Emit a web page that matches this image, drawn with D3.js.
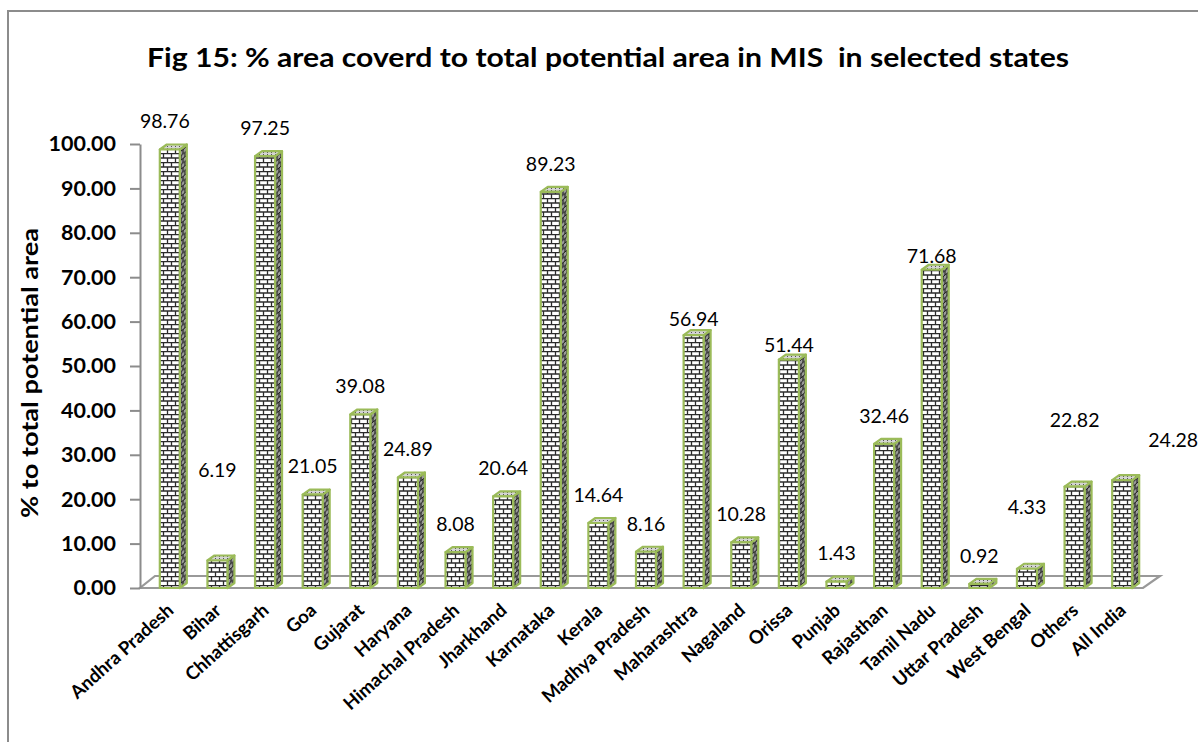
<!DOCTYPE html>
<html>
<head>
<meta charset="utf-8">
<script src="https://cdn.jsdelivr.net/npm/d3@7"></script>
<style>
  body { margin: 0; background: #fff; }
  text { font-family: Lato, "Open Sans", sans-serif; fill: #000; }
</style>
</head>
<body>
<div id="chart"></div>
<script>
// chart data
const states = ['Andhra Pradesh', 'Bihar', 'Chhattisgarh', 'Goa', 'Gujarat', 'Haryana',
    'Himachal Pradesh', 'Jharkhand', 'Karnataka', 'Kerala', 'Madhya Pradesh', 'Maharashtra',
    'Nagaland', 'Orissa', 'Punjab', 'Rajasthan', 'Tamil Nadu', 'Uttar Pradesh', 'West Bengal',
    'Others', 'All India'];
const coverage = [98.76, 6.19, 97.25, 21.05, 39.08, 24.89, 8.08, 20.64, 89.23, 14.64, 8.16,
    56.94, 10.28, 51.44, 1.43, 32.46, 71.68, 0.92, 4.33, 22.82, 24.28];
const yTicks = [0, 10, 20, 30, 40, 50, 60, 70, 80, 90, 100];

const chartTitle = 'Fig 15: % area coverd to total potential area in MIS  in selected states';
const yTitle = '% to total potential area';

class Bar3DChart {

    constructor(_config, _data) {
        this.config = {
            parentElement: _config.parentElement,
            containerWidth: _config.containerWidth || 1198,
            containerHeight: _config.containerHeight || 742,
            margin: _config.margin || {top: 144, right: 52, bottom: 154, left: 146}
        };
        this.data = _data;
        this.initVis();
    }

    initVis() {
        let vis = this;

        vis.width = vis.config.containerWidth - vis.config.margin.left - vis.config.margin.right;
        vis.height = vis.config.containerHeight - vis.config.margin.top - vis.config.margin.bottom;

        vis.svg = d3.select(vis.config.parentElement)
            .append('svg')
            .attr('width', vis.config.containerWidth)
            .attr('height', vis.config.containerHeight);

        vis.buildPatterns();

        // outer frame (only left and top edges show)
        vis.svg.append('path')
            .attr('d', `M8,${vis.config.containerHeight} L8,11 L${vis.config.containerWidth},11`)
            .attr('fill', 'none')
            .attr('stroke', '#8c8c8c')
            .attr('stroke-width', 2);

        vis.svg.append('text')
            .attr('x', 608)
            .attr('y', 67)
            .attr('text-anchor', 'middle')
            .attr('textLength', 922)
            .attr('lengthAdjust', 'spacingAndGlyphs')
            .style('white-space', 'pre')
            .style('font-size', '27px')
            .style('font-weight', 'bold')
            .text(chartTitle);

        vis.svg.append('text')
            .attr('transform', `translate(38,373) rotate(-90)`)
            .attr('text-anchor', 'middle')
            .attr('textLength', 290)
            .attr('lengthAdjust', 'spacingAndGlyphs')
            .style('font-size', '23px')
            .style('font-weight', 'bold')
            .text(yTitle);

        vis.chart = vis.svg.append('g')
            .attr('transform', `translate(${vis.config.margin.left},${vis.config.margin.top})`);

        vis.xScale = d3.scaleBand()
            .range([0, vis.width])
            .paddingInner(0)
            .paddingOuter(0);

        vis.yScale = d3.scaleLinear()
            .range([vis.height, 0]);

        vis.yAxis = d3.axisLeft(vis.yScale)
            .tickValues(yTicks)
            .tickFormat(d3.format('.2f'))
            .tickSize(10)
            .tickSizeOuter(0)
            .tickPadding(14);

        vis.floorG = vis.chart.append('g').attr('class', 'floor');
        vis.yAxisG = vis.chart.append('g')
            .attr('class', 'axis y-axis')
            .attr('transform', 'translate(-6,0)');
        vis.barsG = vis.chart.append('g').attr('class', 'bars');
        vis.labelsG = vis.chart.append('g').attr('class', 'labels');
        vis.xLabelsG = vis.chart.append('g').attr('class', 'x-labels');

        vis.updateVis();
    }

    buildPatterns() {
        let vis = this;
        const defs = vis.svg.append('defs');

        // brick front face
        const front = defs.append('pattern')
            .attr('id', 'brickFront')
            .attr('patternUnits', 'userSpaceOnUse')
            .attr('width', 8).attr('height', 9);
        front.append('rect').attr('width', 8).attr('height', 9).attr('fill', '#fff');
        front.append('path')
            .attr('d', 'M0,0.5H8M0,5H8M1.5,0.5V5M5.5,5V9')
            .attr('stroke', '#2b2b2b')
            .attr('stroke-width', 1.3);

        // darker skewed brick side face
        const side = defs.append('pattern')
            .attr('id', 'brickSide')
            .attr('patternUnits', 'userSpaceOnUse')
            .attr('width', 4).attr('height', 9)
            .attr('patternTransform', 'skewY(-40)');
        side.append('rect').attr('width', 4).attr('height', 9).attr('fill', '#9a9a9a');
        side.append('path')
            .attr('d', 'M0,0.5H4M0,5H4M1,0.5V5M3,5V9')
            .attr('stroke', '#1e1e1e')
            .attr('stroke-width', 1.2);

        // dotted top face
        const top = defs.append('pattern')
            .attr('id', 'brickTop')
            .attr('patternUnits', 'userSpaceOnUse')
            .attr('width', 4).attr('height', 2);
        top.append('rect').attr('width', 4).attr('height', 2).attr('fill', '#d4d4d4');
        top.append('rect').attr('x', 1).attr('width', 1).attr('height', 1).attr('fill', '#555');
    }

    updateVis() {
        let vis = this;

        vis.xScale.domain(vis.data.map(d => d.state));
        vis.yScale.domain([0, 100]);

        vis.renderVis();
    }

    renderVis() {
        let vis = this;

        const barW = 20;   // front face width
        const dx = 7;      // depth offset
        const dy = -5;
        const y0 = vis.yScale(0);

        // floor slab
        const fx0 = -6, fx1 = vis.width - 3;
        vis.floorG.append('path')
            .attr('d', `M${fx0},${y0} L${fx1},${y0} L${fx1 + 17},${y0 - 12} L${fx0 + 15},${y0 - 12} Z`)
            .attr('fill', '#fff')
            .attr('stroke', '#999')
            .attr('stroke-width', 2.2);

        vis.yAxisG.call(vis.yAxis);
        vis.yAxisG.select('.domain').attr('stroke', '#8c8c8c').attr('stroke-width', 2);
        vis.yAxisG.selectAll('.tick line').attr('stroke', '#8c8c8c').attr('stroke-width', 2);
        vis.yAxisG.selectAll('.tick text')
            .attr('fill', '#000')
            .style('font-family', 'Lato, sans-serif')
            .style('font-size', '21.5px')
            .style('font-weight', 'bold');

        const bx = d => vis.xScale(d.state) + (vis.xScale.bandwidth() - barW) / 2;

        const bars = vis.barsG.selectAll('.bar')
            .data(vis.data)
            .join('g')
            .attr('class', 'bar')
            .attr('stroke', '#9bbb59')
            .attr('stroke-width', 2.2)
            .attr('stroke-linejoin', 'round');

        bars.append('path')
            .attr('fill', 'url(#brickSide)')
            .attr('d', d => {
                const x = bx(d) + barW, y = vis.yScale(d.value);
                return `M${x},${y} L${x + dx},${y + dy} L${x + dx},${y0 + dy} L${x},${y0} Z`;
            });

        bars.append('path')
            .attr('fill', 'url(#brickTop)')
            .attr('d', d => {
                const x = bx(d), y = vis.yScale(d.value);
                return `M${x},${y} L${x + dx},${y + dy} L${x + barW + dx},${y + dy} L${x + barW},${y} Z`;
            });

        bars.append('rect')
            .attr('fill', 'url(#brickFront)')
            .attr('x', d => bx(d))
            .attr('y', d => vis.yScale(d.value))
            .attr('width', barW)
            .attr('height', d => y0 - vis.yScale(d.value));

        // value labels sit above the bars; a few drift away like the original
        const lift = {'Bihar': 90, 'West Bengal': 62, 'Others': 67, 'All India': 40,
            'Maharashtra': 16, 'Orissa': 14, 'Tamil Nadu': 14};
        const shift = {'All India': 51, 'Andhra Pradesh': -5};

        vis.labelsG.selectAll('.value')
            .data(vis.data)
            .join('text')
            .attr('class', 'value')
            .attr('x', d => vis.xScale(d.state) + vis.xScale.bandwidth() / 2 + (shift[d.state] || 0))
            .attr('y', d => vis.yScale(d.value) - (lift[d.state] || 28))
            .attr('dy', '0.35em')
            .attr('text-anchor', 'middle')
            .style('font-size', '19.5px')
            .text(d => d.value.toFixed(2));

        vis.xLabelsG.selectAll('.xlab')
            .data(vis.data)
            .join('text')
            .attr('class', 'xlab')
            .attr('transform', d => `translate(${vis.xScale(d.state) + vis.xScale.bandwidth() / 2 + 5},${y0 + 24}) rotate(-42)`)
            .attr('text-anchor', 'end')
            .style('font-size', '18.5px')
            .style('font-weight', 'bold')
            .text(d => d.state);
    }
}

const data = states.map((s, i) => ({state: s, value: coverage[i]}));
new Bar3DChart({parentElement: '#chart'}, data);
</script>
</body>
</html>
